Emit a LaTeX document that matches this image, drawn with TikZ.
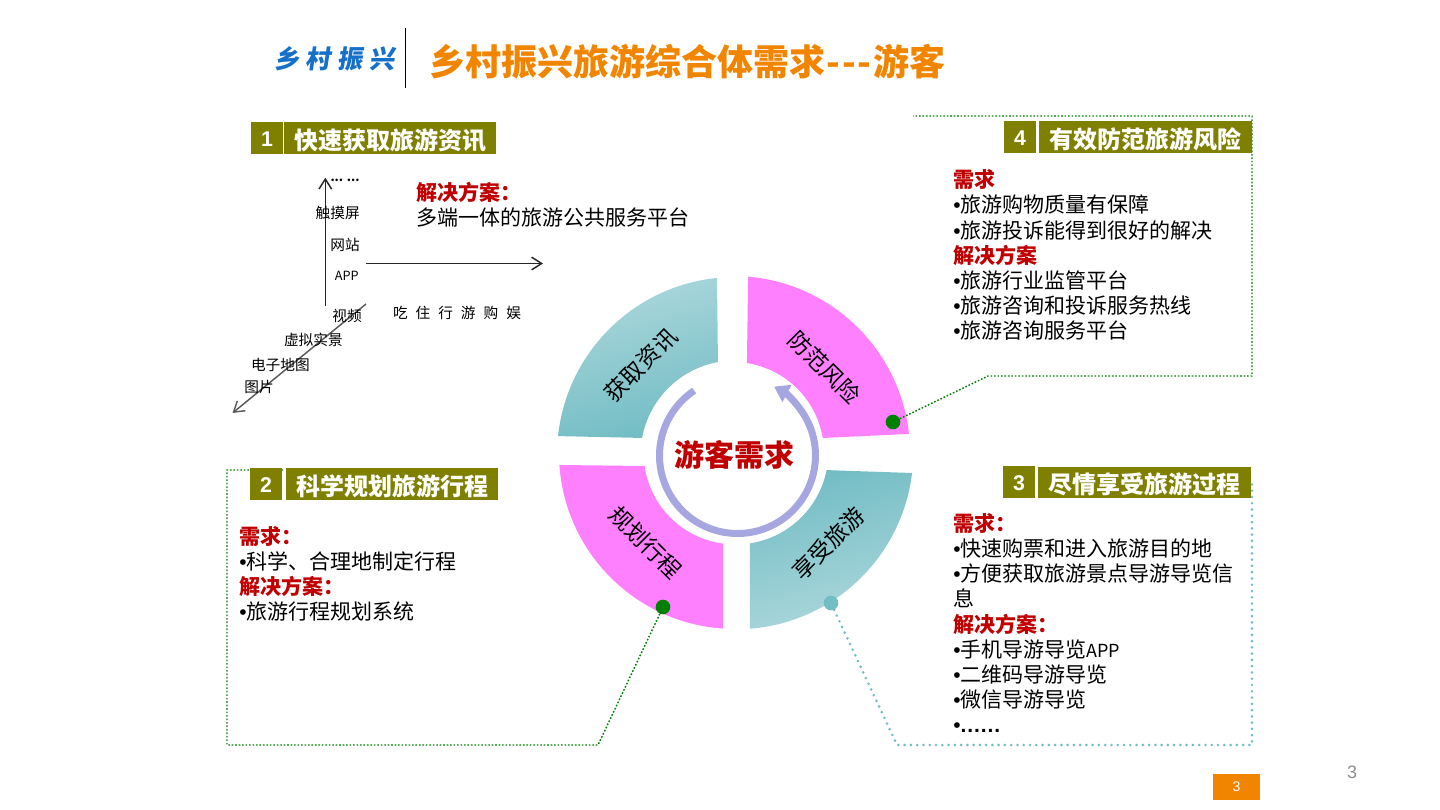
\documentclass[tikz,border=0pt]{standalone}
\usepackage{xcolor}
\usepackage{fontspec}
\setmainfont{Noto Sans CJK SC}
\newfontfamily\latinfont{Liberation Sans}
\newfontfamily\logofont{Noto Sans CJK SC}[FakeSlant=0.15,LetterSpace=25]
\usetikzlibrary{arrows.meta}
\definecolor{oliveBar}{RGB}{128,128,0}
\definecolor{tealBand}{RGB}{114,188,196}
\definecolor{tealPale}{RGB}{172,216,220}
\definecolor{pinkBand}{RGB}{255,128,255}
\definecolor{greenDot}{RGB}{0,128,0}
\definecolor{redHead}{RGB}{192,0,0}
\definecolor{ringBlue}{RGB}{166,166,224}
\definecolor{orangeTitle}{RGB}{242,133,0}
\newcommand{\redhead}[1]{\textcolor{redHead}{\textbf{#1}}}
\newcommand{\bul}{{\latinfont •}}
% centre x, centre y, outer r, inner r, outer angles, inner angles
\newcommand{\bandpath}[8]{([shift={(#1,#2)}]-#5:#3) arc [start angle=-#5,end angle=-#6,radius=#3] -- ([shift={(#1,#2)}]-#8:#4) arc [start angle=-#8,end angle=-#7,radius=#4] -- cycle}
\tikzset{
  numbox/.style={fill=oliveBar,text=white,inner sep=0pt,minimum width=24pt,minimum height=23.6pt,text height=13pt,text depth=0pt,font=\latinfont\bfseries\fontsize{16}{16}\selectfont},
  headbox/.style={fill=oliveBar,text=white,inner sep=0pt,minimum height=23.6pt,text height=18pt,text depth=1.4pt,font=\bfseries\fontsize{18}{18}\selectfont},
  bodytext/.style={anchor=west,inner sep=0.75pt,align=left,font=\fontsize{15.75}{18.8}\selectfont},
  axistext/.style={inner sep=0.75pt,font=\fontsize{11}{12}\selectfont},
  bandtext/.style={inner sep=0.75pt,font=\fontsize{17}{17}\selectfont},
  greenline/.style={draw=greenDot,line width=1.1pt,dash pattern=on 1.2pt off 1.4pt},
  tealline/.style={draw=tealBand,line width=2.2pt,line cap=round,dash pattern=on 0pt off 4.7pt},
  axisline/.style={draw={rgb, 255:red, 40; green, 40; blue, 40 },line width=1.1pt,-{Straight Barb[length=7.5pt,width=9.5pt]}},
  dotnode/.style={circle,inner sep=0pt,minimum size=11pt}
}
\begin{document}
\begin{tikzpicture}[x=0.75pt,y=0.75pt,yscale=-1,xscale=1]
\useasboundingbox (0,0) rectangle (1440,810);

%Shape: Band
\shade [top color=tealPale,bottom color=tealBand,shading angle=15] \bandpath{735}{455}{178}{94.5}{95.8}{173.9}{100.4}{169.6};
%Shape: Band
\fill [pinkBand] \bandpath{733}{453}{177}{91}{85.1}{6.2}{81.2}{9.5};
%Shape: Band
\fill [pinkBand] \bandpath{735}{453}{176}{91.4}{183.9}{266.1}{188.2}{262.5};
%Shape: Band
\shade [top color=tealBand,bottom color=tealPale,shading angle=15] \bandpath{736}{452}{177.3}{92.4}{353.2}{274.5}{348.7}{278.7};

%Curve Lines
\draw [draw=ringBlue,line width=5.25pt,-{Triangle[length=11pt,width=14pt]}] (737.5,455.5) ++(-123.7:78) arc [start angle=-123.7,end angle=-422,radius=78];

% Corner points
\coordinate (riskA) at (988,376);
\coordinate (riskB) at (1252,376);
\coordinate (riskC) at (1252,116);
\coordinate (riskD) at (913,116);
\coordinate (joyA) at (897,745);
\coordinate (joyB) at (1252,745);
\coordinate (joyC) at (1252,480);
\coordinate (planA) at (598,745);
\coordinate (planB) at (227,745);
\coordinate (planC) at (227,470);
\coordinate (planD) at (283,470);

%Shape: Circle
\draw (893,422) node (dotRisk) [dotnode,fill=greenDot] {};
\draw (663,607) node (dotPlan) [dotnode,fill=greenDot] {};
\draw (831,603) node (dotJoy) [dotnode,fill=tealBand] {};

%Straight Lines
\draw [greenline] (dotRisk) -- (riskA) -- (riskB) -- (riskC) -- (riskD);
\draw [tealline] (dotJoy) -- (joyA) -- (joyB) -- (joyC);
\draw [greenline] (dotPlan) -- (planA) -- (planB) -- (planC) -- (planD);

%Straight Lines
\coordinate (upS) at (325.3,306);
\coordinate (upE) at (325.3,177.7);
\coordinate (rightS) at (366,263.5);
\coordinate (rightE) at (543,263.5);
\coordinate (downS) at (366,304);
\coordinate (downE) at (232.5,413);
\draw [axisline] (upS) -- (upE);
\draw [axisline] (rightS) -- (rightE);
\draw [axisline,draw={rgb, 255:red, 90; green, 90; blue, 90 }] (downS) -- (downE);

%Straight Lines
\coordinate (sepT) at (405.5,28);
\coordinate (sepB) at (405.5,88);
\draw [line width=0.75pt] (sepT) -- (sepB);

% Text Node
\draw (274,59) node (logoText) [anchor=west,inner sep=0pt,text={rgb, 255:red, 20; green, 112; blue, 200 },font=\logofont\bfseries\fontsize{19}{19}\selectfont] {乡村振兴};
\draw (429,62) node (titleText) [anchor=west,inner sep=0pt,text=orangeTitle,font=\bfseries\fontsize{27}{27}\selectfont] {乡村振兴旅游综合体需求\kern1.2pt-\kern1.2pt-\kern1.2pt-\kern1.2pt 游客};

% Text Node
\draw (267,138) node (numOne) [numbox] {1};
\draw (390,138) node (headOne) [headbox,minimum width=159.5pt] {快速获取旅游资讯};
\draw (266,484) node (numTwo) [numbox] {2};
\draw (392,484) node (headTwo) [headbox,minimum width=159pt] {科学规划旅游行程};
\draw (1019,482) node (numThree) [numbox] {3};
\draw (1144.5,482.5) node (headThree) [headbox,minimum width=160pt,minimum height=23pt] {尽情享受旅游过程};
\draw (1020,137) node (numFour) [numbox] {4};
\draw (1145.5,137) node (headFour) [headbox,minimum width=160pt] {有效防范旅游风险};

% Text Node
\draw (415,204.5) node (solveOne) [bodytext] {\redhead{解决方案：}\\多端一体的旅游公共服务平台};
\draw (238,573.5) node (textTwo) [bodytext] {\redhead{需求：}\\\bul 科学、合理地制定行程\\\redhead{解决方案：}\\\bul 旅游行程规划系统};
\draw (952,623) node (textThree) [bodytext] {\redhead{需求：}\\\bul 快速购票和进入旅游目的地\\\bul 方便获取旅游景点导游导览信\\息\\\redhead{解决方案：}\\\bul 手机导游导览{\fontsize{13.5}{18.8}\selectfont APP}\\\bul 二维码导游导览\\\bul 微信导游导览\\\bul{\latinfont\bfseries .\kern.7pt.\kern.7pt.\kern.7pt.\kern.7pt.\kern.7pt.}};
\draw (952,255) node (textFour) [bodytext] {\redhead{需求}\\\bul 旅游购物质量有保障\\\bul 旅游投诉能得到很好的解决\\\redhead{解决方案}\\\bul 旅游行业监管平台\\\bul 旅游咨询和投诉服务热线\\\bul 旅游咨询服务平台};

% Text Node
\draw (345,180) node (axisMore) [axistext,font=\fontsize{9}{10}\selectfont] {\textbf{... ...}};
\draw (361,213) node (axisTouch) [axistext,anchor=east] {触摸屏};
\draw (361,245) node (axisWeb) [axistext,anchor=east] {网站};
\draw (360,276) node (axisApp) [axistext,anchor=east,font=\fontsize{9.5}{12}\selectfont] {APP};
\draw (363,316) node (axisVideo) [axistext,anchor=east] {视频};
\draw (344,340) node (axisVirtual) [axistext,anchor=east] {虚拟实景};
\draw (311,365) node (axisMap) [axistext,anchor=east] {电子地图};
\draw (275,387) node (axisPhoto) [axistext,anchor=east] {图片};
\draw (457,313) node (axisTrip) [axistext] {\spaceskip=6pt\relax 吃 住 行 游 购 娱};

% Text Node
\draw (641,365) node (bandInfo) [bandtext,rotate=45] {获取资讯};
\draw (825,367) node (bandRisk) [bandtext,rotate=-45] {防范风险};
\draw (646,542) node (bandPlan) [bandtext,rotate=-45] {规划行程};
\draw (828,543) node (bandJoy) [bandtext,rotate=45] {享受旅游};
\draw (734,455) node (centerText) [inner sep=0pt,text=redHead,font=\bfseries\fontsize{22.5}{22.5}\selectfont] {游客需求};

% Text Node
\draw (1236.5,787) node (pageBox) [fill=orangeTitle,text=white,inner sep=0pt,minimum width=35.25pt,minimum height=19.5pt,font=\latinfont\fontsize{10.5}{12}\selectfont] {3};
\draw (1352,772) node (pageNum) [inner sep=0pt,text={rgb, 255:red, 140; green, 140; blue, 140 },font=\latinfont\fontsize{13.5}{14}\selectfont] {3};

\end{tikzpicture}
\end{document}
